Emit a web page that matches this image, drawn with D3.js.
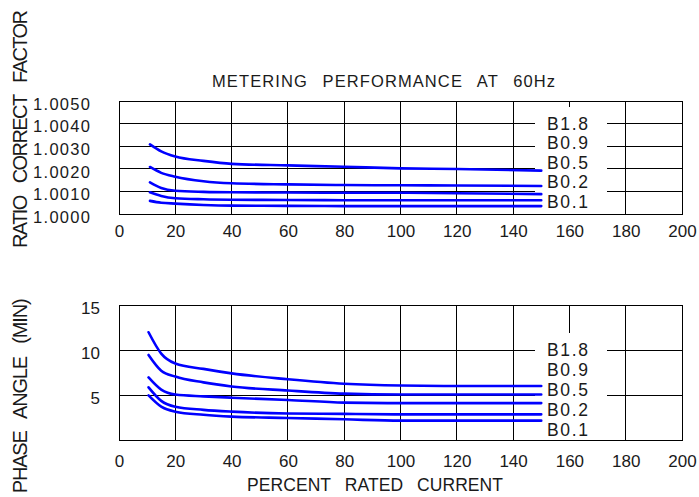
<!DOCTYPE html>
<html>
<head>
<meta charset="utf-8">
<script src="https://cdn.jsdelivr.net/npm/d3@7"></script>
<style>
  html, body { margin: 0; padding: 0; background: #fff; }
  svg { display: block; }
</style>
</head>
<body>
<script>
// ---------- DATA ----------
const seriesNames = ["B1.8", "B0.9", "B0.5", "B0.2", "B0.1"];
const xTicks = [0, 20, 40, 60, 80, 100, 120, 140, 160, 180, 200];
const ratioTicks = [1.0000, 1.0010, 1.0020, 1.0030, 1.0040, 1.0050];
const phaseTicks = [5, 10, 15];

// Ratio correction factor (top chart)
const ratioX = [11, 15, 20, 30, 40, 60, 80, 100, 120, 150];
const ratioB18 = [1.00308, 1.00277, 1.00254, 1.00235, 1.00222, 1.00215, 1.00209, 1.00202, 1.00199, 1.00192];
const ratioB09 = [1.00208, 1.00182, 1.00165, 1.00145, 1.00136, 1.00131, 1.00128, 1.00127, 1.00126, 1.00124];
const ratioB05 = [1.00140, 1.00115, 1.00103, 1.00098, 1.00096, 1.00095, 1.00094, 1.00094, 1.00092, 1.00088];
const ratioB02 = [1.00096, 1.00080, 1.00070, 1.00065, 1.00063, 1.00062, 1.00061, 1.00061, 1.00061, 1.00061];
const ratioB01 = [1.00058, 1.00050, 1.00046, 1.00040, 1.00037, 1.00036, 1.00035, 1.00035, 1.00035, 1.00035];

// Phase angle in minutes (bottom chart)
const phaseX = [10.5, 15, 20, 30, 40, 60, 80, 100, 120, 150];
const phaseB18 = [11.97, 9.60, 8.50, 7.90, 7.40, 6.75, 6.25, 6.05, 6.00, 6.00];
const phaseB09 = [9.45, 7.70, 7.05, 6.40, 5.95, 5.50, 5.15, 5.05, 5.05, 5.05];
const phaseB05 = [6.95, 5.60, 5.05, 4.85, 4.70, 4.45, 4.15, 4.10, 4.10, 4.10];
const phaseB02 = [5.85, 4.35, 3.70, 3.35, 3.15, 2.95, 2.90, 2.85, 2.85, 2.85];
const phaseB01 = [4.95, 3.70, 3.15, 2.80, 2.60, 2.45, 2.30, 2.15, 2.15, 2.15];

const ratioSeries = [ratioB18, ratioB09, ratioB05, ratioB02, ratioB01];
const phaseSeries = [phaseB18, phaseB09, phaseB05, phaseB02, phaseB01];

// ---------- LAYOUT ----------
const W = 699, H = 497;
const FONT = "'Liberation Sans', Arial, sans-serif";
const INK = "#1a1a1a";
const svg = d3.select("body").append("svg").attr("width", W).attr("height", H);

const x = d3.scaleLinear().domain([0, 200]).range([119, 682]);
const yR = d3.scaleLinear().domain([1.0000, 1.0050]).range([214, 101]);
const yP = d3.scaleLinear().domain([0, 15]).range([440, 305]);

const labelX = 547;
const breakL = 535, breakR = 607;

function drawPanel(y, yTicks, fmt, xs, series, firstLabelVal, labelStep, yAxisX, yFont, yLs, xLabelOffset) {
  const [y0, y1] = y.range(); // bottom, top
  const g = svg.append("g");
  const xl = x.range()[0], xr = x.range()[1];

  // frame
  g.append("rect")
    .attr("x", xl).attr("y", y1).attr("width", xr - xl).attr("height", y0 - y1)
    .attr("fill", "none").attr("stroke", "#000").attr("stroke-width", 1)
    .attr("shape-rendering", "crispEdges");

  const firstLabelY = y(firstLabelVal);

  // vertical grid
  xTicks.filter(d => d > 0 && d < 200).forEach(d => {
    const yEnd = d === 160 ? firstLabelY - 17 : y0;
    g.append("line")
      .attr("x1", x(d)).attr("x2", x(d)).attr("y1", y1).attr("y2", yEnd)
      .attr("stroke", "#000").attr("stroke-width", 1).attr("shape-rendering", "crispEdges");
  });

  // horizontal grid (broken around labels)
  const yDom = y.domain();
  yTicks.filter(d => d > yDom[0] && d < yDom[1]).forEach(d => {
    [[xl, breakL], [breakR, xr]].forEach(([a, b]) => {
      g.append("line")
        .attr("x1", a).attr("x2", b).attr("y1", y(d)).attr("y2", y(d))
        .attr("stroke", "#000").attr("stroke-width", 1).attr("shape-rendering", "crispEdges");
    });
  });

  // curves
  const line = d3.line().x(d => x(d[0])).y(d => y(d[1])).curve(d3.curveMonotoneX);
  series.forEach(vals => {
    g.append("path")
      .datum(xs.map((xv, i) => [xv, vals[i]]))
      .attr("d", line)
      .attr("fill", "none").attr("stroke", "#0000ff")
      .attr("stroke-width", 2.6).attr("stroke-linecap", "round").attr("stroke-linejoin", "round");
  });

  // series labels
  seriesNames.forEach((name, i) => {
    g.append("text")
      .attr("x", labelX).attr("y", firstLabelY + i * labelStep + 6.2)
      .attr("font-family", FONT).attr("font-size", 17.5).attr("letter-spacing", 1.7)
      .attr("fill", INK).text(name);
  });

  // x axis labels
  const xa = svg.append("g").attr("transform", `translate(0,${y0})`)
    .call(d3.axisBottom(x).tickValues(xTicks).tickSize(0).tickFormat(d3.format("d")));
  xa.select(".domain").remove();
  xa.attr("font-family", FONT).attr("font-size", 17);
  xa.selectAll("text").attr("dy", null).attr("y", xLabelOffset).attr("fill", INK);

  // y axis labels
  const ya = svg.append("g").attr("transform", `translate(${yAxisX + yLs},0)`)
    .call(d3.axisLeft(y).tickValues(yTicks).tickSize(0).tickPadding(0).tickFormat(fmt));
  ya.select(".domain").remove();
  ya.attr("font-family", FONT).attr("font-size", yFont);
  ya.selectAll("text").attr("dy", "0.5em").attr("fill", INK).attr("letter-spacing", yLs);
}

drawPanel(yR, ratioTicks, d3.format(".4f"), ratioX, ratioSeries, 1.0040, 19.5, 90, 16.5, 1.3, 23);
drawPanel(yP, phaseTicks, d3.format("d"), phaseX, phaseSeries, 10, 20, 100, 17, 0, 27);

// titles
svg.append("text")
  .attr("x", 383.5).attr("y", 87).attr("text-anchor", "middle")
  .attr("font-family", FONT).attr("font-size", 16.5).attr("fill", INK)
  .attr("word-spacing", 9)
  .attr("textLength", 343).attr("lengthAdjust", "spacing")
  .text("METERING PERFORMANCE AT 60Hz");

svg.append("text")
  .attr("x", 375).attr("y", 491).attr("text-anchor", "middle")
  .attr("font-family", FONT).attr("font-size", 17.5).attr("fill", INK)
  .attr("word-spacing", 9)
  .attr("textLength", 256).attr("lengthAdjust", "spacing")
  .text("PERCENT RATED CURRENT");

svg.append("text")
  .attr("transform", "translate(27.2,129) rotate(-90)")
  .attr("text-anchor", "middle")
  .attr("font-family", FONT).attr("font-size", 20).attr("fill", INK)
  .attr("word-spacing", 9)
  .attr("textLength", 238).attr("lengthAdjust", "spacing")
  .text("RATIO CORRECT FACTOR");

svg.append("text")
  .attr("transform", "translate(27.2,395.8) rotate(-90)")
  .attr("text-anchor", "middle")
  .attr("font-family", FONT).attr("font-size", 20).attr("fill", INK)
  .attr("word-spacing", 9)
  .attr("textLength", 195).attr("lengthAdjust", "spacing")
  .text("PHASE ANGLE (MIN)");
</script>
</body>
</html>
